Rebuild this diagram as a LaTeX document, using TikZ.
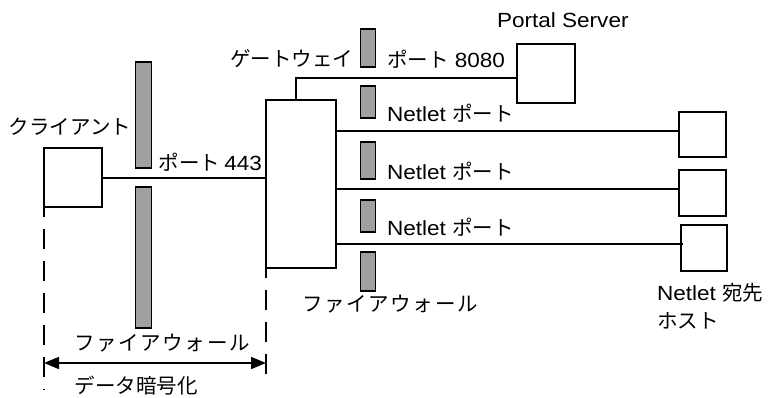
\documentclass[tikz,border=0pt]{standalone}
\usepackage{fontspec}
\setmainfont{Liberation Sans}[FakeStretch=1.1]
\newfontfamily\cjk{Noto Sans CJK JP}
\usetikzlibrary{arrows.meta}
\definecolor{fwgray}{RGB}{160,160,160}
\begin{document}
\begin{tikzpicture}[x=1pt,y=-1pt,
  every node/.style={font=\fontsize{20.5}{29}\selectfont},
  box/.style={draw,line width=1.6pt,minimum width=#1,inner sep=0pt,outer sep=0pt},
  fwbar/.style={draw,line width=1.2pt,fill=fwgray,inner sep=0pt,outer sep=0pt,minimum width=15pt},
  conn/.style={line width=1.6pt},
  guide/.style={line width=1.6pt,dash pattern=on 20pt off 12pt},
  lbl/.style={inner sep=0pt,outer sep=0pt}]
\useasboundingbox (0,0) rectangle (774,397);
% boxes
\node[box=58pt,minimum height=59pt] (client) at (73,177.5) {};
\node[box=70pt,minimum height=168pt] (gw) at (301,184) {};
\node[box=58pt,minimum height=59pt] (portal) at (546,73.5) {};
\node[box=47pt,minimum height=45pt] (d1) at (702.5,134.5) {};
\node[box=47pt,minimum height=46pt] (d2) at (702.5,193) {};
\node[box=46pt,minimum height=46pt] (d3) at (704,248) {};
% firewall bars
\node[fwbar,minimum height=106pt,minimum width=16pt] (fwa) at (143.5,115) {};
\node[fwbar,minimum height=141pt,minimum width=16pt] (fwb) at (143.5,257.5) {};
\node[fwbar,minimum height=38pt] (fw1) at (368,48) {};
\node[fwbar,minimum height=32pt] (fw2) at (368,102) {};
\node[fwbar,minimum height=37pt] (fw3) at (368,160.5) {};
\node[fwbar,minimum height=32pt] (fw4) at (368,216) {};
\node[fwbar,minimum height=39pt] (fw5) at (368,271.5) {};
% connector coordinates
\coordinate (cy) at (0,178);
\coordinate (gx) at (296,0);
\coordinate (py) at (0,78);
\coordinate (n1) at (0,131);
\coordinate (n2) at (0,189);
\coordinate (n3) at (0,244);
\coordinate (lbot) at (44,390);
\coordinate (rbot) at (266,380);
\coordinate (al) at (44,363);
\coordinate (ar) at (266,363);
% connectors
\draw[conn] (client.east |- cy) -- (gw.west |- cy);
\draw[conn] (gw.north -| gx) -- (gx |- py) -- (portal.west |- py);
\draw[conn] (gw.east |- n1) -- (d1.west |- n1);
\draw[conn] (gw.east |- n2) -- (d2.west |- n2);
\draw[conn] (gw.east |- n3) -- ([xshift=2pt]d3.west |- n3);
% dashed guides
\draw[guide,dash phase=10pt] (client.south west) -- (lbot);
\draw[guide,dash phase=10pt] (gw.south west) -- (rbot);
\draw[line width=1.6pt,{Triangle[length=15pt,width=12pt]}-{Triangle[length=15pt,width=12pt]}] (al) -- (ar);
% labels
\node[lbl,anchor=base west] (lps) at (497,27) {Portal Server};
\node[lbl,anchor=east] (lgw) at (353,59) {\cjk ゲートウェイ};
\node[lbl,anchor=base west] (l8080) at (387,67) {{\cjk ポート} 8080};
\node[lbl,anchor=base west] (ln1) at (387,121) {Netlet {\cjk ポート}};
\node[lbl,anchor=base west] (ln2) at (387,179) {Netlet {\cjk ポート}};
\node[lbl,anchor=base west] (ln3) at (387,235) {Netlet {\cjk ポート}};
\node[lbl,anchor=base east] (l443) at (262,170) {{\cjk ポート}\hspace{0.2em}443};
\node[lbl,anchor=west] (lcl) at (9,127) {\cjk クライアント};
\node[lbl] (lfw2) at (390,304) {\cjk\addfontfeature{LetterSpace=8} ファイアウォール};
\node[lbl,anchor=base west] (ldest) at (657,300) {Netlet {\cjk 宛先}};
\node[lbl,anchor=west] (lhost) at (657,321) {\cjk ホスト};
\node[lbl] (lfw1) at (162,343) {\cjk\addfontfeature{LetterSpace=8} ファイアウォール};
\node[lbl] (lenc) at (136,386) {\cjk データ暗号化};
\end{tikzpicture}
\end{document}
